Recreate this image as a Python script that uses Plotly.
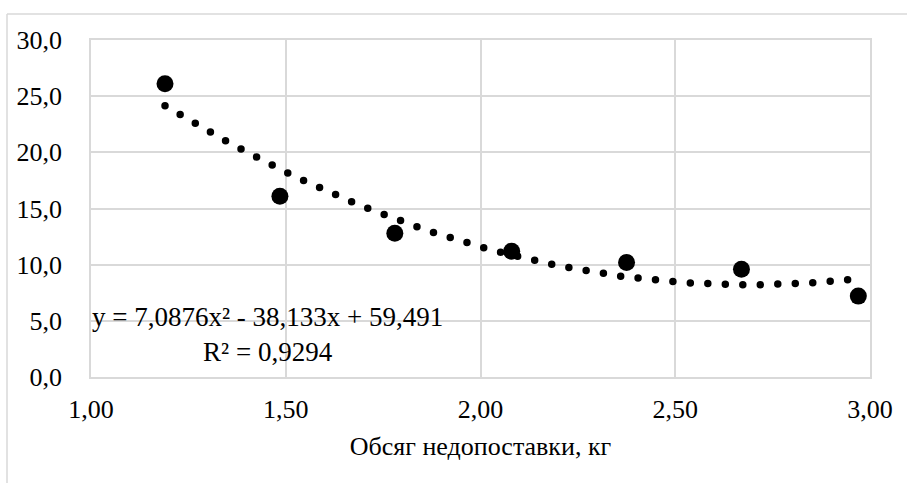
import numpy as np
import plotly.graph_objects as go

# Data
x_vals = [1.19, 1.485, 1.78, 2.08, 2.375, 2.67, 2.97]
y_vals = [26.1, 16.1, 12.8, 11.2, 10.2, 9.6, 7.2]
trend_coef = [7.0876, -38.133, 59.491]   # quadratic trendline shown on the chart
x_ticks = [1.0, 1.5, 2.0, 2.5, 3.0]
x_tick_text = ["1,00", "1,50", "2,00", "2,50", "3,00"]
y_ticks = [0, 5, 10, 15, 20, 25, 30]
y_tick_text = ["0,0", "5,0", "10,0", "15,0", "20,0", "25,0", "30,0"]
eq_text = "y = 7,0876x² - 38,133x + 59,491<br>R² = 0,9294"
x_title = "Обсяг недопоставки, кг"

FONT = "Times New Roman"
GRID = "#d9d9d9"
FS = 26

tx = np.linspace(min(x_vals), max(x_vals), 200)
ty = np.polyval(trend_coef, tx)

fig = go.Figure()
fig.add_trace(go.Scatter(
    x=tx, y=ty, mode="lines",
    line=dict(color="black", width=7.5, dash="0px,17.5px"),
    hoverinfo="skip", showlegend=False,
))
fig.add_trace(go.Scatter(
    x=x_vals, y=y_vals, mode="markers",
    marker=dict(color="black", size=17),
    showlegend=False,
))

fig.add_annotation(
    x=0.0, y=3.75, xref="paper", yref="y",
    xanchor="left", yanchor="middle",
    text=eq_text, showarrow=False, align="center",
    font=dict(family=FONT, size=27, color="black"),
    xshift=-1,
)

W, H = 907, 483
ml, mt = 91, 40
mr = W - 870
mb = H - 377
pw, ph = W - ml - mr, H - mt - mb
bx = (7 - ml) / pw
by = (H - mb - 14) / ph
fig.add_shape(type="line", xref="paper", yref="paper",
              x0=bx, x1=1.2, y0=by, y1=by, line=dict(color=GRID, width=1.5))
fig.add_shape(type="line", xref="paper", yref="paper",
              x0=bx, x1=bx, y0=by, y1=-0.5, line=dict(color=GRID, width=1.5))

fig.update_layout(
    width=W, height=H,
    margin=dict(l=ml, r=mr, t=mt, b=mb),
    paper_bgcolor="white", plot_bgcolor="white",
    font=dict(family=FONT, size=FS, color="black"),
    xaxis=dict(
        range=[1.0, 3.0], tickvals=x_ticks, ticktext=x_tick_text,
        showgrid=True, gridcolor=GRID, gridwidth=1.5,
        showline=True, linecolor=GRID, linewidth=1.5, mirror=True,
        zeroline=False, ticks="", ticklabelstandoff=8,
        title=dict(text=x_title, standoff=14, font=dict(family=FONT, size=FS)),
        tickfont=dict(family=FONT, size=FS),
    ),
    yaxis=dict(
        range=[0, 30], tickvals=y_ticks, ticktext=y_tick_text,
        showgrid=True, gridcolor=GRID, gridwidth=1.5,
        showline=True, linecolor=GRID, linewidth=1.5, mirror=True,
        zeroline=False, ticks="", ticklabelstandoff=22,
        tickfont=dict(family=FONT, size=FS),
    ),
)

post = """
document.body.style.margin='0';
document.body.style.overflow='hidden';
function fixCaps(){
  document.querySelectorAll('.scatterlayer .trace:first-child .js-line').forEach(function(p){
    p.style.strokeLinecap='round';
  });
}
fixCaps();
var gd=document.getElementsByClassName('plotly-graph-div')[0];
if(gd && gd.on){gd.on('plotly_afterplot', fixCaps);}
"""
fig.write_html("out.html", post_script=post, config={"displayModeBar": False})
